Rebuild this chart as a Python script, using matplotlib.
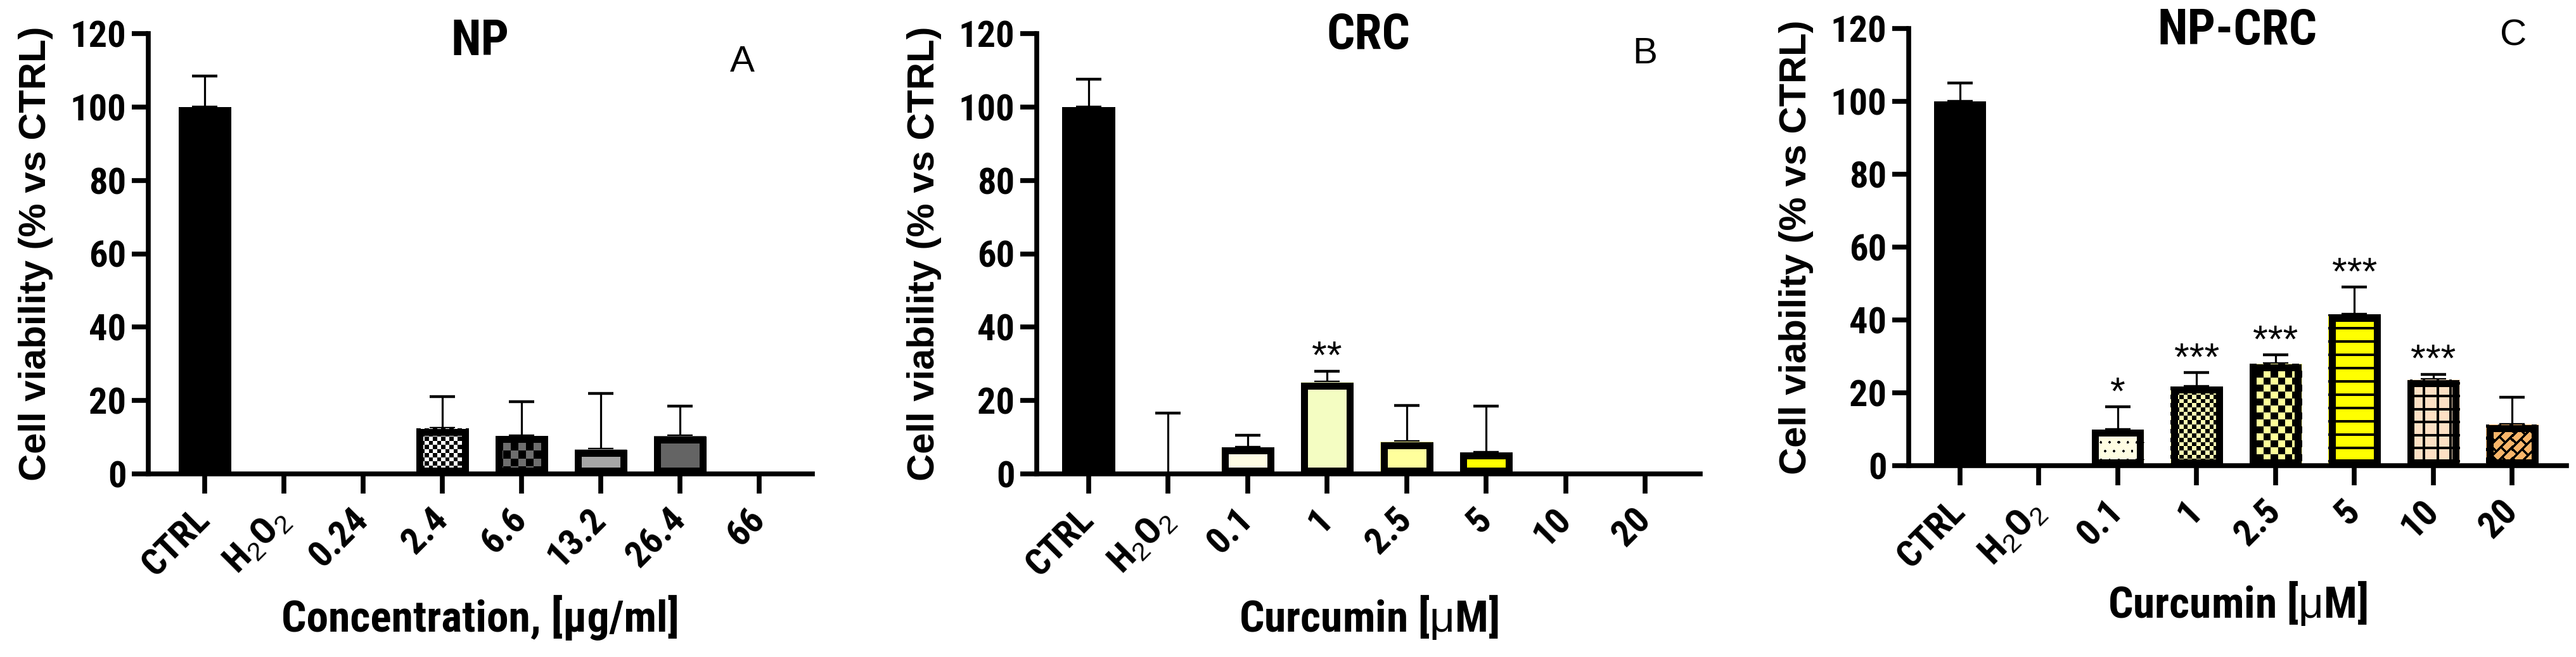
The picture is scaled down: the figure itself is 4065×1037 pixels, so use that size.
import numpy as np
import matplotlib
matplotlib.use("Agg")
import matplotlib.pyplot as plt
from matplotlib.colors import to_rgb

plt.rcParams['font.family'] = ['Liberation Sans', 'DejaVu Sans']
plt.rcParams['mathtext.fontset'] = 'custom'
plt.rcParams['mathtext.rm'] = 'Liberation Sans'
plt.rcParams['mathtext.default'] = 'rm'

NARROW = ['Roboto Condensed', 'Archivo Narrow', 'PT Sans Narrow', 'Fira Sans Condensed',
          'Liberation Sans', 'DejaVu Sans']

# ---------------- data ----------------
np_labels = ['CTRL', 'H$_2$O$_2$', '0.24', '2.4', '6.6', '13.2', '26.4', '66']
np_values = [100, 0, 0, 12.4, 10.4, 6.7, 10.3, 0]
np_errors = [8.5, 0, 0, 8.7, 9.3, 15.3, 8.1, 0]
np_stars = ['', '', '', '', '', '', '', '']

crc_labels = ['CTRL', 'H$_2$O$_2$', '0.1', '1', '2.5', '5', '10', '20']
crc_values = [100, 0, 7.3, 25.0, 8.8, 5.9, 0, 0]
crc_errors = [7.5, 16.5, 3.2, 3.0, 9.8, 12.5, 0, 0]
crc_stars = ['', '', '', '**', '', '', '', '']

npcrc_labels = ['CTRL', 'H$_2$O$_2$', '0.1', '1', '2.5', '5', '10', '20']
npcrc_values = [100, 0, 10.0, 21.8, 28.0, 41.5, 23.6, 11.3]
npcrc_errors = [5.0, 0, 6.2, 3.7, 2.4, 7.5, 1.5, 7.4]
npcrc_stars = ['', '', '*', '***', '***', '***', '***', '']

yticks = [0, 20, 40, 60, 80, 100, 120]

# ---------------- styles ----------------
np_faces = ['black', 'white', 'white', 'white', 'black', '#a6a6a6', '#646464', 'white']
np_patterns = [None, None, None, ('checker', 6.5, 'black'), ('checker', 12, '#6e6e6e'),
               None, None, None]
crc_faces = ['black', 'white', '#fffde4', '#f4fdc2', '#ffff9c', '#ffff00', 'white', 'white']
crc_patterns = [None] * 8
npcrc_faces = ['black', 'white', '#fffde2', '#ffffb3', '#ffff99', '#ffff00', '#fde0c4', '#f9b56a']
npcrc_patterns = [None, None, ('dots', 13.8, 'black'), ('checker', 6.7, 'black'),
                  ('checker', 11, 'black'), ('hlines', 21, 'black'), ('grid', 20.5, 'black'),
                  ('brick', 13, 'black')]

W_PX, H_PX, DPI = 4066, 1037, 100
BAR_W = 0.66
BORDER_PX = 11
STAR_GAP = 7.0
TICK_FS = 42
STAR_FS = 44

fig = plt.figure(figsize=(W_PX / DPI, H_PX / DPI), dpi=DPI)
fig.patch.set_facecolor('white')


def axes_at(left, right, top, bottom):
    return fig.add_axes([left / W_PX, 1 - bottom / H_PX, (right - left) / W_PX, (bottom - top) / H_PX])


def make_texture(spec, base, w, h):
    kind, p, ink = spec
    yy, xx = np.mgrid[0:h, 0:w].astype(float)
    if kind == 'checker':
        mask = ((np.floor(xx / p) + np.floor(yy / p)) % 2) == 0
    elif kind == 'dots':
        row = np.floor(yy / p)
        xs = xx - (row % 2) * p / 2
        mask = ((xs % p) - p / 2) ** 2 + ((yy % p) - p / 2) ** 2 < 1.9 ** 2
    elif kind == 'hlines':
        mask = ((yy - 20) % p) < 3.5
    elif kind == 'grid':
        mask = (((xx - 24) % p) < 4) | (((yy - 24) % p) < 4)
    elif kind == 'brick':
        u = (xx + yy) / np.sqrt(2)
        v = (xx - yy) / np.sqrt(2)
        r = np.floor(u / p)
        mask = ((u % p) < 3.5) | ((((v + (r % 2) * 10) % 20) < 3.5))
    else:
        mask = np.zeros((h, w), bool)
    b = np.array(to_rgb(base))
    k = np.array(to_rgb(ink))
    return np.where(mask[..., None], k, b)


def panel(ax, labels, values, errors, stars, faces, patterns, xlim, title, title_y,
          xlabel, xlabel_y, ylabel_x):
    x = np.arange(len(values))
    vals = np.array(values, float)
    errs = np.array(errors, float)
    ax.set_xlim(*xlim)
    ax.set_ylim(0, 120)

    (px0, py0), (px1, py1) = ax.transData.transform([(0, 0), (1, 1)])
    dx = BORDER_PX / (px1 - px0)
    dy = BORDER_PX / (py1 - py0)

    idx = np.where(errs > 0)[0]
    ax.errorbar(x[idx], vals[idx], yerr=[np.zeros(len(idx)), errs[idx]], fmt='none',
                ecolor='black', elinewidth=2.3, capsize=14.4, capthick=3.2, zorder=1)

    fills = ax.bar(x, vals, width=BAR_W, color=faces, edgecolor='none', zorder=2)
    for i, rect in enumerate(fills):
        spec = patterns[i]
        if spec is None or vals[i] <= 0:
            continue
        (x0, y0), (x1, y1) = ax.transData.transform([(i - BAR_W / 2, 0), (i + BAR_W / 2, vals[i])])
        w = max(int(round(x1 - x0)), 1)
        h = max(int(round(y1 - y0)), 1)
        img = make_texture(spec, faces[i], w, h)
        im = ax.imshow(img, extent=(i - BAR_W / 2, i + BAR_W / 2, 0, vals[i]), origin='upper',
                       interpolation='nearest', aspect='auto', zorder=2.5)
        im.set_clip_path(rect)
    pos = np.where(vals > 0)[0]
    ax.bar(x[pos], vals[pos] - dy, width=BAR_W - dx, bottom=dy / 2, fill=False,
           edgecolor='black', linewidth=BORDER_PX * 72 / DPI, joinstyle='miter', zorder=3)

    for i, s in enumerate(stars):
        if s:
            ax.annotate(s, (i, vals[i] + errs[i] + STAR_GAP), xytext=(0, -0.58 * STAR_FS),
                        textcoords='offset points', ha='center', va='baseline', fontsize=STAR_FS,
                        fontweight='normal')

    ax.set_xlim(*xlim)
    ax.set_ylim(0, 120)
    for s in ['top', 'right']:
        ax.spines[s].set_visible(False)
    for s in ['left', 'bottom']:
        ax.spines[s].set_linewidth(5.5)
    ax.set_yticks(yticks)
    ax.set_yticklabels([str(t) for t in yticks], fontsize=TICK_FS, fontweight='bold', family=NARROW)
    ax.tick_params(axis='y', direction='out', length=19, width=5.5, pad=6)
    ax.set_xticks(x)
    ax.set_xticklabels(labels, rotation=45, ha='right', va='center', rotation_mode='anchor',
                       fontsize=TICK_FS, fontweight='bold', family=NARROW)
    ax.tick_params(axis='x', direction='out', length=22, width=5.5, pad=24)
    ax.set_facecolor('none')

    ax.set_ylabel('Cell viability (% vs CTRL)', fontsize=43, fontweight='bold')
    ax.yaxis.set_label_coords(ylabel_x, 0.5)
    ax.text(0.5, title_y, title, transform=ax.transAxes, ha='center', va='center',
            fontsize=56, fontweight='bold', family=NARROW)
    ax.text(0.5, xlabel_y, xlabel, transform=ax.transAxes, ha='center', va='center',
            fontsize=50, fontweight='bold', family=NARROW)


def to_axes_y(py, top, bottom):
    return (bottom - py) / (bottom - top)


# Panel A
axA = axes_at(234, 1282, 53, 748)
panel(axA, np_labels, np_values, np_errors, np_stars, np_faces, np_patterns,
      (-0.71, 7.67), 'NP', to_axes_y(66, 53, 748),
      'Concentration, [µg/ml]', to_axes_y(975, 53, 748), -150 / (1282 - 234))
fig.text(1171 / W_PX, 1 - 98 / H_PX, 'A', ha='center', va='center', fontsize=42)

# Panel B
axB = axes_at(1636, 2683, 53, 748)
panel(axB, crc_labels, crc_values, crc_errors, crc_stars, crc_faces, crc_patterns,
      (-0.65, 7.69), 'CRC', to_axes_y(56, 53, 748),
      r'Curcumin [$\mathrm{μ}$M]', to_axes_y(974, 53, 748), -150 / (2683 - 1636))
fig.text(2596 / W_PX, 1 - 85 / H_PX, 'B', ha='center', va='center', fontsize=42)

# Panel C
axC = axes_at(3012, 4050, 45, 735)
panel(axC, npcrc_labels, npcrc_values, npcrc_errors, npcrc_stars, npcrc_faces, npcrc_patterns,
      (-0.65, 7.69), 'NP-CRC', to_axes_y(49, 45, 735),
      r'Curcumin [$\mathrm{μ}$M]', to_axes_y(952, 45, 735), -150 / (4050 - 3012))
fig.text(3966 / W_PX, 1 - 56 / H_PX, 'C', ha='center', va='center', fontsize=42)

fig.savefig('out.png', dpi=DPI, facecolor='white')
